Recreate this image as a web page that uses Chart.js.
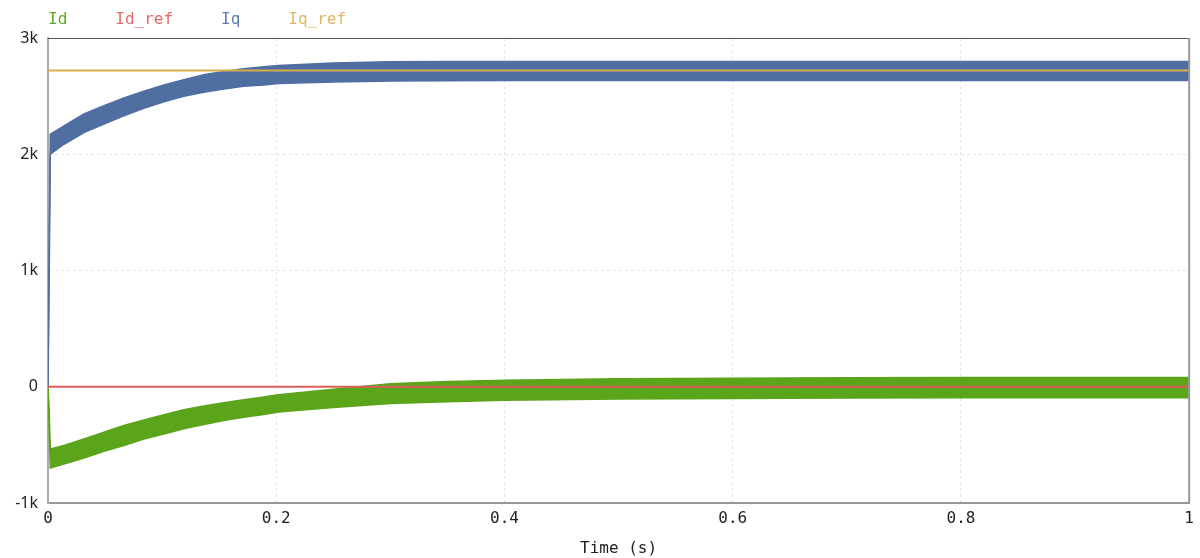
<!DOCTYPE html>
<html lang="en">
<head>
<meta charset="UTF-8">
<title>Id / Iq currents</title>
<script src="https://cdn.jsdelivr.net/npm/chart.js"></script>
<style>
  html, body { margin: 0; padding: 0; background: #fff; }
  #wrap { width: 1200px; height: 558px; }
</style>
</head>
<body>
<div id="wrap"><canvas id="chart"></canvas></div>
<script>
const time = [0, 0.001, 0.002, 0.014, 0.0315, 0.049, 0.0665, 0.084, 0.1015, 0.119, 0.1365, 0.154, 0.1715, 0.189, 0.202, 0.25, 0.3, 0.35, 0.4, 0.5, 0.6, 0.7, 0.8, 1.0];
// Id ripple band: upper / lower edge (A)
const idHigh = [0, -200, -535, -506, -449, -391, -334, -285, -241, -198, -166, -138, -112, -89, -69, -22, 25, 45, 56, 68, 74, 78, 80, 80];
const idLow = [0, -350, -699, -665, -613, -556, -506, -449, -406, -362, -325, -290, -262, -238, -218, -178, -145, -128, -117, -105, -100, -97, -95, -95];
// Iq ripple band: upper / lower edge (A)
const iqHigh = [0, 1200, 2173, 2245, 2346, 2418, 2484, 2542, 2596, 2642, 2683, 2711, 2735, 2752, 2763, 2785, 2795, 2797, 2798, 2798, 2798, 2798, 2798, 2798];
const iqLow = [0, 900, 2000, 2086, 2187, 2259, 2331, 2395, 2452, 2499, 2533, 2562, 2585, 2596, 2608, 2622, 2630, 2632, 2634, 2634, 2634, 2634, 2634, 2634];
// references
const refTime = [0, 1];
const idRef = [0, 0];
const iqRef = [2720, 2720];
// axis ticks
const xTicks = [0, 0.2, 0.4, 0.6, 0.8, 1];
const yTicks = [-1000, 0, 1000, 2000, 3000];

const GREEN = '#5aa51a', RED = '#e05c5c', BLUE = '#4f6fa2', GOLD = '#d9ad4c';
const mono = 'DejaVu Sans Mono';

function pts(xs, ys) {
    return xs.map((x, i) => ({ x: x, y: ys[i] }));
}

// top and right edge of the plot frame
const frame = {
    id: 'frame',
    afterDatasetsDraw(chart) {
        const { ctx, chartArea: a } = chart;
        ctx.save();
        ctx.lineWidth = 1;
        ctx.strokeStyle = '#555';
        ctx.beginPath();
        ctx.moveTo(a.left, a.top + 0.5);
        ctx.lineTo(a.right, a.top + 0.5);
        ctx.stroke();
        ctx.lineWidth = 2;
        ctx.strokeStyle = '#999';
        ctx.beginPath();
        ctx.moveTo(a.right, a.top);
        ctx.lineTo(a.right, a.bottom);
        ctx.stroke();
        ctx.restore();
    }
};

new Chart(document.getElementById('chart'), {
    type: 'line',
    data: {
        datasets: [
            { label: 'Id', legendColor: '#5fa828', data: pts(time, idHigh), borderColor: GREEN, backgroundColor: GREEN, fill: '+1', order: 1 },
            { label: '', data: pts(time, idLow), borderColor: GREEN, backgroundColor: GREEN, fill: false, order: 1 },
            { label: 'Id_ref', legendColor: '#e06a6a', data: pts(refTime, idRef), borderColor: RED, borderWidth: 2, fill: false, order: 0 },
            { label: 'Iq', legendColor: '#5b7bb0', data: pts(time, iqHigh), borderColor: BLUE, backgroundColor: BLUE, fill: '+1', order: 1 },
            { label: '', data: pts(time, iqLow), borderColor: BLUE, backgroundColor: BLUE, fill: false, order: 1 },
            { label: 'Iq_ref', legendColor: '#e0b860', data: pts(refTime, iqRef), borderColor: GOLD, borderWidth: 2, fill: false, order: 0 }
        ]
    },
    options: {
        responsive: true,
        maintainAspectRatio: false,
        animation: false,
        layout: { padding: { left: 0, right: 10, top: 6, bottom: 0 } },
        elements: {
            point: { radius: 0 },
            line: { borderWidth: 1.5, tension: 0 }
        },
        plugins: {
            tooltip: { enabled: false },
            legend: {
                position: 'top',
                align: 'start',
                labels: {
                    boxWidth: 34,
                    padding: 6,
                    font: { family: mono, size: 16 },
                    generateLabels: (chart) => chart.data.datasets
                        .map((ds, i) => ({
                            text: ds.label,
                            fontColor: ds.legendColor,
                            fillStyle: 'rgba(0,0,0,0)',
                            strokeStyle: 'rgba(0,0,0,0)',
                            lineWidth: 0,
                            hidden: false,
                            datasetIndex: i
                        }))
                        .filter((item) => item.text)
                }
            }
        },
        scales: {
            x: {
                type: 'linear',
                min: 0,
                max: 1,
                afterBuildTicks: (s) => { s.ticks = xTicks.map((v) => ({ value: v })); },
                afterFit: (s) => { s.height = 55; },
                ticks: {
                    color: '#222',
                    padding: 6,
                    maxRotation: 0,
                    font: { family: mono, size: 16 },
                    callback: (v) => String(v)
                },
                grid: { color: '#e4e6d8', drawTicks: false },
                border: { color: '#999', width: 2, dash: [3, 3] },
                title: {
                    display: true,
                    text: 'Time (s)',
                    color: '#222',
                    font: { family: mono, size: 16 },
                    padding: { top: 0, bottom: 0 }
                }
            },
            y: {
                min: -1000,
                max: 3000,
                afterBuildTicks: (s) => { s.ticks = yTicks.map((v) => ({ value: v })); },
                afterFit: (s) => { s.width = 48; },
                ticks: {
                    color: '#222',
                    padding: 10,
                    font: { family: 'Noto Sans', size: 16 },
                    callback: (v) => (v === 0 ? '0' : v / 1000 + 'k')
                },
                grid: { color: '#e4e6d8', drawTicks: false },
                border: { color: '#aaa', width: 2, dash: [3, 3] }
            }
        }
    },
    plugins: [frame]
});
</script>
</body>
</html>
